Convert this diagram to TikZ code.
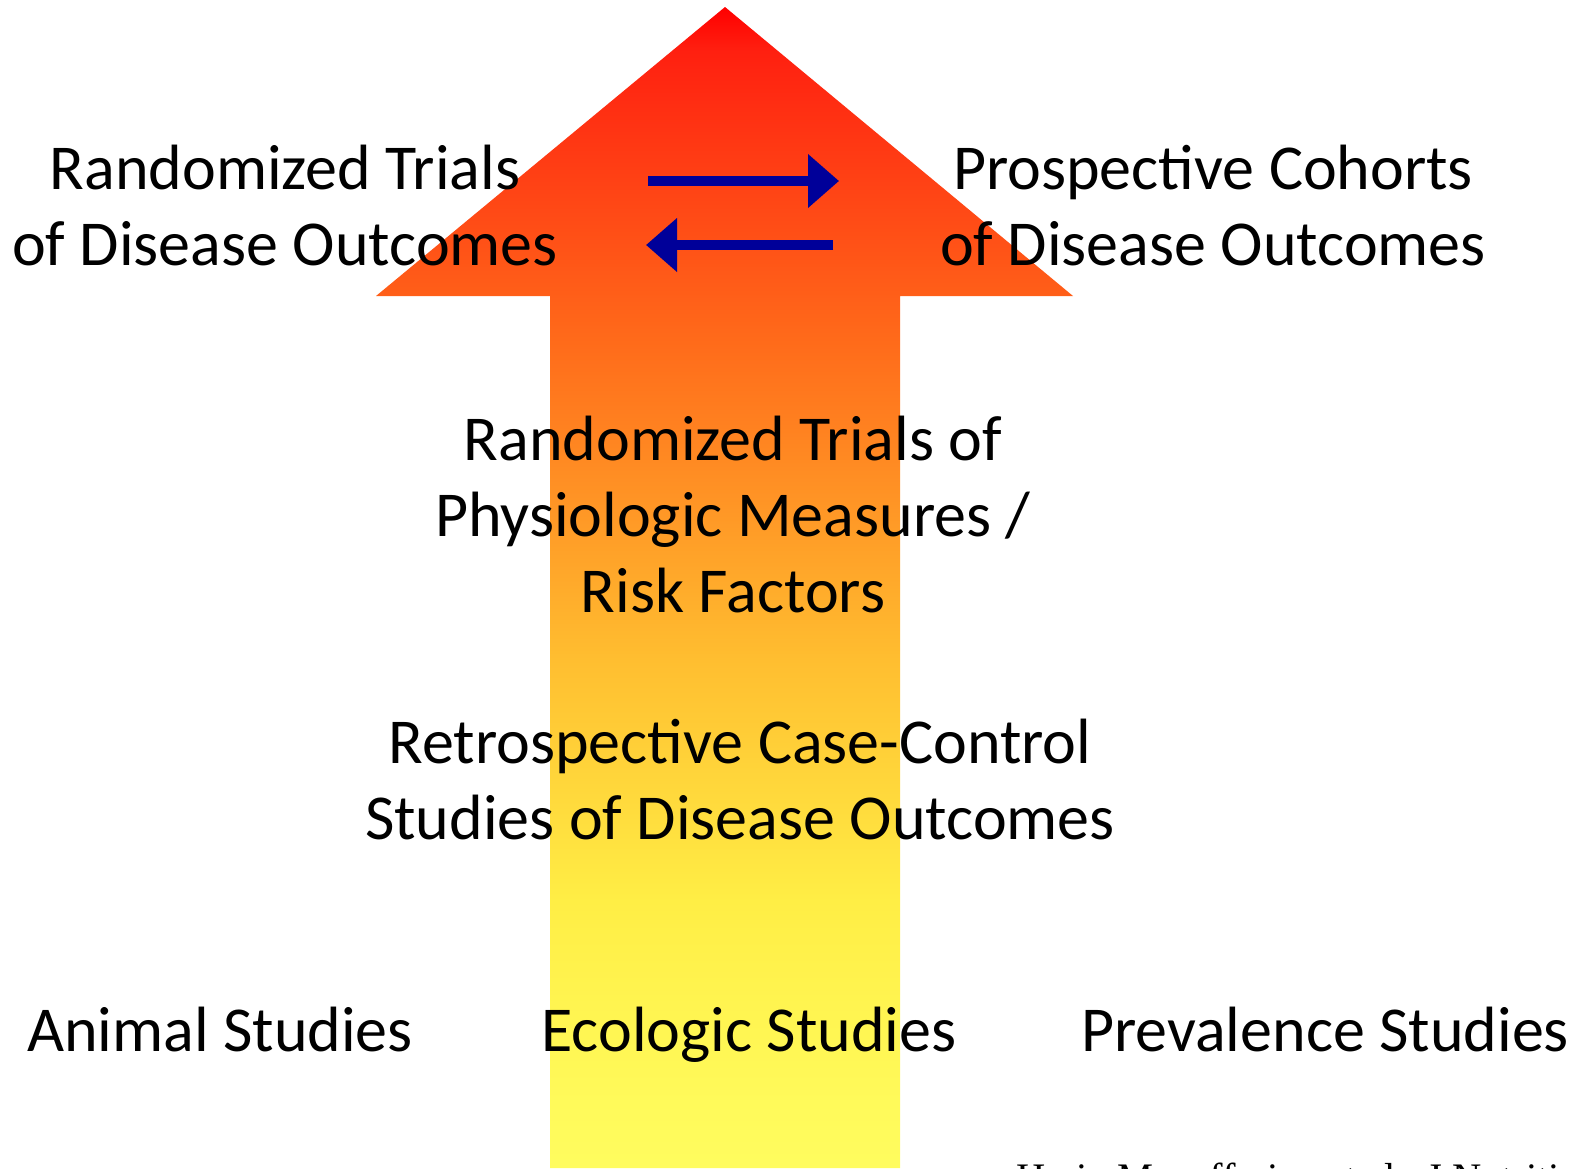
\documentclass[tikz,border=0pt]{standalone}
\usepackage{fontspec}
\setmainfont{Carlito}
\newfontfamily\citefont{Liberation Serif}
\usetikzlibrary{arrows.meta}

\definecolor{swapblue}{RGB}{0,0,153}
% red tip fading to yellow at the foot of the shaft
\pgfdeclareverticalshading{evidence}{100bp}{
  rgb(0bp)=(1,0.988,0.369); rgb(25bp)=(1,0.988,0.369);
  rgb(27.9bp)=(1,0.98,0.353); rgb(36.5bp)=(1,0.933,0.271);
  rgb(46.9bp)=(1,0.745,0.188); rgb(60.7bp)=(1,0.416,0.102);
  rgb(73.1bp)=(1,0.125,0.063); rgb(75bp)=(1,0,0); rgb(100bp)=(1,0,0)}

\begin{document}
\begin{tikzpicture}[x=0.5pt, y=-0.5pt,
    study/.style={font=\fontsize{32}{38}\selectfont, align=center,
      anchor=base, inner sep=0pt},
    swap/.style={swapblue, line width=5pt,
      -{Triangle[length=15.5pt, width=26pt]}}]
  \useasboundingbox (0,0) rectangle (1583,1168);
  \clip (0,0) rectangle (1583,1168);

  % the big arrow
  \shade[shading=evidence] (725,7) -- (1073,296) -- (900,296) -- (900,1168)
    -- (550,1168) -- (550,296) -- (376,296) -- cycle;

  % base anchor sits on the last line
  \node[study] (rct) at (285,265) {Randomized Trials\\of Disease Outcomes};
  \node[study] (cohort) at (1213,265) {Prospective Cohorts\\of Disease Outcomes};
  \node[study] (physio) at (733,612)
    {Randomized Trials of\\Physiologic Measures /\\Risk Factors};
  \node[study] (casecontrol) at (740,839)
    {Retrospective Case-Control\\Studies of Disease Outcomes};
  \foreach \x/\name/\txt in {220/animal/Animal Studies,
      749/ecologic/Ecologic Studies, 1325/prevalence/Prevalence Studies}
    \node[study] (\name) at (\x,1051) {\txt};

  % two-way link between trials and cohorts
  \coordinate (fwd tail) at (648,181);
  \coordinate (fwd head) at (839,181);
  \coordinate (back tail) at (833,245);
  \coordinate (back head) at (646,245);
  \draw[swap] (fwd tail) -- (fwd head);
  \draw[swap] (back tail) -- (back head);

  \node[font=\citefont\fontsize{20.25}{24}\selectfont, anchor=base west,
    inner sep=0pt] (source) at (1016,1191)
    {Hu in Mozaffarian et al., J Nutrition};
\end{tikzpicture}
\end{document}
